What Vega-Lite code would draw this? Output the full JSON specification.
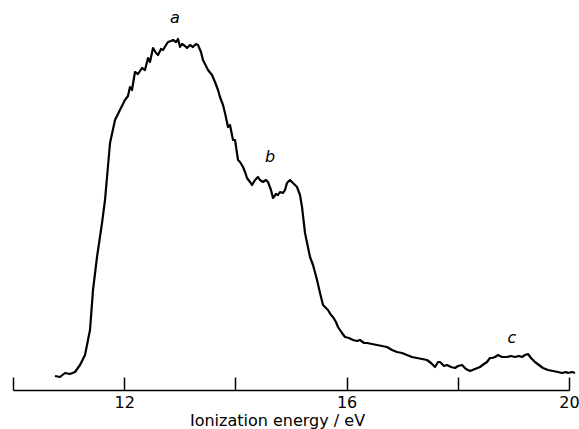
{
  "$schema": "https://vega.github.io/schema/vega-lite/v6.json",
  "width": 556,
  "height": 390,
  "autosize": "none",
  "padding": {"left": 13, "top": 0, "right": 10, "bottom": 39},
  "background": "white",
  "config": {"view": {"stroke": null}},
  "datasets": {
    "spectrum": [
      {"e": 10.755, "i": 14}, {"e": 10.845, "i": 13}, {"e": 10.935, "i": 17}, {"e": 11.025, "i": 16},
      {"e": 11.115, "i": 18}, {"e": 11.205, "i": 25}, {"e": 11.295, "i": 35}, {"e": 11.349, "i": 50},
      {"e": 11.385, "i": 60}, {"e": 11.439, "i": 100}, {"e": 11.511, "i": 133}, {"e": 11.601, "i": 167},
      {"e": 11.655, "i": 190}, {"e": 11.745, "i": 247}, {"e": 11.835, "i": 270}, {"e": 11.924, "i": 280},
      {"e": 12.014, "i": 290}, {"e": 12.068, "i": 294}, {"e": 12.104, "i": 303}, {"e": 12.14, "i": 300},
      {"e": 12.194, "i": 318}, {"e": 12.248, "i": 316}, {"e": 12.32, "i": 322}, {"e": 12.374, "i": 320},
      {"e": 12.428, "i": 332}, {"e": 12.464, "i": 328}, {"e": 12.518, "i": 342}, {"e": 12.572, "i": 337},
      {"e": 12.608, "i": 335}, {"e": 12.662, "i": 341}, {"e": 12.698, "i": 340}, {"e": 12.752, "i": 345},
      {"e": 12.788, "i": 348}, {"e": 12.842, "i": 349}, {"e": 12.878, "i": 350}, {"e": 12.932, "i": 348},
      {"e": 12.968, "i": 351}, {"e": 13.004, "i": 343}, {"e": 13.04, "i": 346}, {"e": 13.094, "i": 344},
      {"e": 13.129, "i": 342}, {"e": 13.183, "i": 345}, {"e": 13.237, "i": 343}, {"e": 13.291, "i": 346},
      {"e": 13.327, "i": 345}, {"e": 13.381, "i": 338}, {"e": 13.417, "i": 330}, {"e": 13.471, "i": 324},
      {"e": 13.507, "i": 320}, {"e": 13.579, "i": 315}, {"e": 13.633, "i": 308}, {"e": 13.687, "i": 300},
      {"e": 13.723, "i": 293}, {"e": 13.777, "i": 285}, {"e": 13.813, "i": 277}, {"e": 13.867, "i": 263},
      {"e": 13.903, "i": 265}, {"e": 13.957, "i": 250}, {"e": 13.993, "i": 250}, {"e": 14.047, "i": 230},
      {"e": 14.083, "i": 228}, {"e": 14.137, "i": 223}, {"e": 14.173, "i": 218}, {"e": 14.209, "i": 212},
      {"e": 14.263, "i": 208}, {"e": 14.299, "i": 205}, {"e": 14.353, "i": 210}, {"e": 14.406, "i": 213},
      {"e": 14.442, "i": 210}, {"e": 14.496, "i": 208}, {"e": 14.55, "i": 210}, {"e": 14.586, "i": 208},
      {"e": 14.64, "i": 200}, {"e": 14.676, "i": 192}, {"e": 14.73, "i": 196}, {"e": 14.766, "i": 195},
      {"e": 14.802, "i": 198}, {"e": 14.856, "i": 197}, {"e": 14.892, "i": 200}, {"e": 14.928, "i": 207},
      {"e": 14.982, "i": 210}, {"e": 15.036, "i": 207}, {"e": 15.108, "i": 203}, {"e": 15.162, "i": 195},
      {"e": 15.198, "i": 183}, {"e": 15.252, "i": 157}, {"e": 15.342, "i": 133}, {"e": 15.396, "i": 125},
      {"e": 15.468, "i": 110}, {"e": 15.522, "i": 97}, {"e": 15.576, "i": 85}, {"e": 15.629, "i": 82},
      {"e": 15.665, "i": 80}, {"e": 15.719, "i": 75}, {"e": 15.755, "i": 73}, {"e": 15.809, "i": 68},
      {"e": 15.845, "i": 63}, {"e": 15.917, "i": 57}, {"e": 15.971, "i": 53}, {"e": 16.043, "i": 52},
      {"e": 16.115, "i": 50}, {"e": 16.187, "i": 49}, {"e": 16.241, "i": 50}, {"e": 16.313, "i": 47},
      {"e": 16.367, "i": 47}, {"e": 16.457, "i": 46}, {"e": 16.547, "i": 45}, {"e": 16.637, "i": 44},
      {"e": 16.727, "i": 43}, {"e": 16.817, "i": 40}, {"e": 16.906, "i": 38}, {"e": 16.996, "i": 37},
      {"e": 17.086, "i": 35}, {"e": 17.176, "i": 33}, {"e": 17.266, "i": 32}, {"e": 17.356, "i": 31},
      {"e": 17.446, "i": 30}, {"e": 17.518, "i": 27}, {"e": 17.59, "i": 23}, {"e": 17.644, "i": 28},
      {"e": 17.68, "i": 28}, {"e": 17.752, "i": 24}, {"e": 17.806, "i": 25}, {"e": 17.878, "i": 23},
      {"e": 17.95, "i": 22}, {"e": 18.004, "i": 24}, {"e": 18.076, "i": 25}, {"e": 18.147, "i": 21},
      {"e": 18.219, "i": 19}, {"e": 18.309, "i": 21}, {"e": 18.399, "i": 23}, {"e": 18.471, "i": 26},
      {"e": 18.525, "i": 28}, {"e": 18.579, "i": 32}, {"e": 18.615, "i": 32}, {"e": 18.669, "i": 33},
      {"e": 18.723, "i": 35}, {"e": 18.795, "i": 33}, {"e": 18.885, "i": 33}, {"e": 18.957, "i": 34},
      {"e": 19.029, "i": 33}, {"e": 19.101, "i": 34}, {"e": 19.155, "i": 33}, {"e": 19.209, "i": 35},
      {"e": 19.263, "i": 36}, {"e": 19.317, "i": 32}, {"e": 19.388, "i": 28}, {"e": 19.46, "i": 25},
      {"e": 19.532, "i": 22}, {"e": 19.622, "i": 20}, {"e": 19.712, "i": 19}, {"e": 19.802, "i": 18},
      {"e": 19.874, "i": 17}, {"e": 19.946, "i": 18}, {"e": 19.982, "i": 17}, {"e": 20.054, "i": 18},
      {"e": 20.108, "i": 17}
    ],
    "peaks": [
      {"e": 12.914, "i": 372, "t": "a"},
      {"e": 14.622, "i": 233, "t": "b"},
      {"e": 18.975, "i": 52, "t": "c"}
    ]
  },
  "layer": [
    {
      "data": {"name": "spectrum"},
      "mark": {"type": "line", "color": "black", "strokeWidth": 2.2, "strokeJoin": "round"},
      "encoding": {
        "x": {
          "field": "e", "type": "quantitative",
          "scale": {"domain": [10, 20], "nice": false, "zero": false},
          "axis": {
            "values": [10, 12, 14, 16, 18, 20],
            "labelExpr": "datum.value == 12 || datum.value == 16 || datum.value == 20 ? datum.label : ''",
            "title": "Ionization energy / eV",
            "grid": false,
            "domainColor": "black", "domainWidth": 1.5,
            "tickColor": "black", "tickWidth": 1.5, "tickSize": -13,
            "labelColor": "black", "labelFont": "DejaVu Sans", "labelFontSize": 16,
            "labelPadding": 17, "labelFlush": false, "labelOverlap": false,
            "titleColor": "black", "titleFont": "DejaVu Sans", "titleFontSize": 16,
            "titleFontWeight": "normal", "titlePadding": 2, "titleX": 264, "titleAnchor": "middle"
          }
        },
        "y": {
          "field": "i", "type": "quantitative",
          "scale": {"domain": [0, 390], "nice": false, "zero": false},
          "axis": null
        }
      }
    },
    {
      "data": {"name": "peaks"},
      "mark": {"type": "text", "color": "black", "font": "DejaVu Sans", "fontStyle": "italic", "fontSize": 16, "baseline": "middle", "align": "center"},
      "encoding": {
        "x": {"field": "e", "type": "quantitative"},
        "y": {"field": "i", "type": "quantitative"},
        "text": {"field": "t"}
      }
    }
  ]
}
